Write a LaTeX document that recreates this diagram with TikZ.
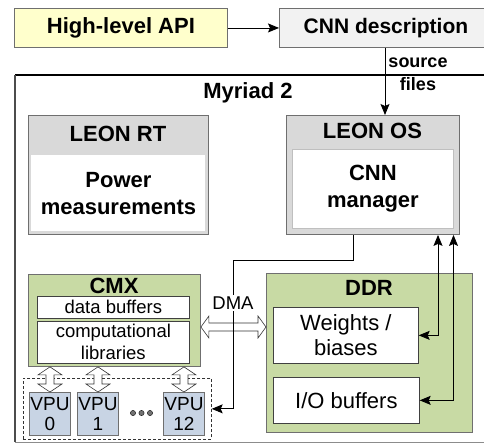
\documentclass[tikz,border=0pt]{standalone}
\usepackage{fontspec}
\setmainfont{Liberation Sans}
\usetikzlibrary{arrows.meta,calc}
\definecolor{apiyellow}{HTML}{FFFFCC}
\definecolor{cnngray}{HTML}{F2F2F2}
\definecolor{hdrgray}{HTML}{D9D9D9}
\definecolor{chipgreen}{HTML}{C8DAA4}
\definecolor{vpublue}{HTML}{C8D4E4}
\definecolor{bordergray}{HTML}{6F6F6F}
\tikzset{
  bx/.style={draw=bordergray, line width=0.9pt, rectangle, inner sep=0pt, anchor=north west, align=center},
  tb/.style={font=\fontsize{22}{27}\selectfont\bfseries, align=center},
  ts/.style={font=\fontsize{18}{23}\selectfont\bfseries, align=center},
  tn/.style={font=\fontsize{18.5}{22}\selectfont, align=center},
  tw/.style={font=\fontsize{22}{25}\selectfont, align=center},
  tv/.style={font=\fontsize{19}{20}\selectfont, align=center},
  tip/.tip={Stealth[length=11pt,width=9pt,inset=2pt]},
  arr/.style={-tip, line width=0.9pt},
  dbl/.style={tip-tip, line width=0.9pt},
  openarr/.style={draw=black!80, fill=white, line width=0.6pt, line join=miter},
  inbox/.style={fill=white, draw=black!75, line width=0.7pt},
}
\newcommand{\rbox}[7]{\node[bx,#2,minimum width={(#5-#3)*1pt},minimum height={(#6-#4)*1pt}] (#1) at (#3,#4) {#7};}
\newcommand{\hdbl}[2]{\draw[openarr] (#1) -- ($(#1)+(8,-11)$) -- ($(#1)+(8,-4)$) -- ($(#2)+(-8,-4)$) -- ($(#2)+(-8,-11)$) -- (#2) -- ($(#2)+(-8,11)$) -- ($(#2)+(-8,4)$) -- ($(#1)+(8,4)$) -- ($(#1)+(8,11)$) -- cycle;}
\newcommand{\vdbl}[2]{\draw[openarr] (#1) -- ($(#1)+(12,8)$) -- ($(#1)+(4,8)$) -- ($(#2)+(4,-8)$) -- ($(#2)+(12,-8)$) -- (#2) -- ($(#2)+(-12,-8)$) -- ($(#2)+(-4,-8)$) -- ($(#1)+(-4,8)$) -- ($(#1)+(-12,8)$) -- cycle;}
\begin{document}
\begin{tikzpicture}[x=1pt,y=-1pt]
\useasboundingbox (0,0) rectangle (484,445);
\clip (0,0) rectangle (484,445);
\fill[white] (0,0) rectangle (484,445);

% top row
\rbox{api}{fill=apiyellow, tb}{14}{8}{227}{47}{High-level API}
\rbox{cnn}{fill=cnngray, tb, font=\fontsize{21}{24}\selectfont\bfseries}{279}{8}{492}{47}{CNN description}
\draw[arr] (api) -- (cnn);

% outer chip box
\node[fill=white, inner sep=0pt, anchor=north west, minimum width=480pt, minimum height=367pt] (myr) at (15,75) {};
\draw[line width=0.8pt, black!45] (myr.south west) -- (myr.south east);
\draw[line width=1.3pt] (myr.north west) -- (myr.north east);
\draw[line width=2pt, black!70] (myr.north west) -- (myr.south west);
\node[tb] (myrt) at (248,93) {Myriad 2};

% LEON RT
\rbox{leonrt}{fill=hdrgray}{28}{115}{208}{234}{}
\rbox{leonrtin}{fill=white, draw=none, tb}{31}{155}{205}{231}{Power\\measurements}
\node[tb] (leonrtt) at (118,134) {LEON RT};

% LEON OS
\rbox{leonos}{fill=hdrgray}{286}{115}{459}{234}{}
\rbox{leonosin}{fill=white, draw=black!25, line width=0.8pt, tb}{292}{149}{453}{228}{CNN\\manager}
\node[tb] (leonost) at (372.5,131) {LEON OS};

% source files arrow
\coordinate (sx) at (385,0);
\draw[arr] (cnn.south -| sx) -- (leonos.north -| sx);
\node[ts] (src) at (418,74.5) {source\\files};

% CMX
\rbox{cmx}{fill=chipgreen}{28}{274}{200}{366}{}
\node[tb] (cmxt) at (114,286) {CMX};
\rbox{dbuf}{inbox, tn}{37}{296}{189}{318}{data buffers}
\rbox{clib}{inbox, tn}{37}{321}{189}{363}{computational\\libraries}

% DDR
\rbox{ddr}{fill=chipgreen}{266}{273}{472}{432}{}
\node[tb] (ddrt) at (369,288) {DDR};
\rbox{wb}{inbox, tw}{273}{307}{418}{363}{Weights /\\biases}
\rbox{io}{inbox, tw}{273}{377}{419}{423}{I/O buffers}

% VPUs
\rbox{vpus}{draw=black!80, dash pattern=on 3pt off 2pt, line width=0.7pt}{23}{378}{211}{439}{}
\rbox{vpu0}{fill=vpublue, tv}{29}{392}{70}{435}{VPU\\0}
\rbox{vpu1}{fill=vpublue, tv}{77}{392}{118}{435}{VPU\\1}
\rbox{vpu12}{fill=vpublue, tv}{163}{392}{204}{435}{VPU\\12}
\foreach \xx in {133,141.5,150} \filldraw[fill=black!55, draw=black!85, line width=0.5pt] (\xx,413) circle (2.6);

% open double arrows
\coordinate (dmay) at (0,327);
\coordinate (dmaL) at (cmx.east |- dmay);
\coordinate (dmaR) at (ddr.west |- dmay);
\hdbl{dmaL}{dmaR}
\coordinate (v0t) at (vpu0.north |- cmx.south);
\coordinate (v1t) at (vpu1.north |- cmx.south);
\coordinate (v12t) at (vpu12.north |- cmx.south);
\vdbl{v0t}{vpu0.north}
\vdbl{v1t}{vpu1.north}
\vdbl{v12t}{vpu12.north}

% LEON OS -> VPUs
\coordinate (j1) at (353,260);
\coordinate (j2) at (233,260);
\draw[arr] (leonos.south -| j1) -- (j1) -- (j2) -- (j2 |- vpus.east) -- (vpus.east);
\node[tn, fill=white, inner sep=1.5pt] (dma) at (233,303) {DMA};

% DDR <-> LEON OS
\coordinate (r1) at (438,0);
\coordinate (r2) at (453.5,0);
\draw[dbl] (wb.east) -- (wb.east -| r1) -- (r1 |- leonos.south);
\draw[dbl] (io.east) -- (io.east -| r2) -- (r2 |- leonos.south);
\end{tikzpicture}
\end{document}
